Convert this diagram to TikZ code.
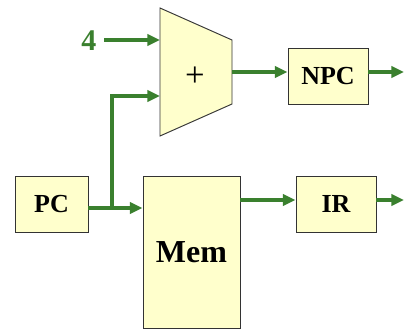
\documentclass[tikz,border=0pt]{standalone}
\usepackage{fontspec}
\setmainfont{Liberation Serif}
\usetikzlibrary{arrows.meta, calc}
\definecolor{busgreen}{RGB}{58,128,46}
\definecolor{regfill}{RGB}{255,255,204}

\begin{document}
\begin{tikzpicture}[x=0.75pt, y=-0.75pt,
  box/.style={draw=black!80, fill=regfill, line width=0.7pt, inner sep=0pt,
    font=\bfseries\fontsize{19.5}{22}\selectfont},
  bus/.style={draw=busgreen, line width=3pt, -{Triangle[length=9.5pt, width=8.5pt]}}]
\useasboundingbox (0,0) rectangle (404,329);

% adder
\draw[draw=black!80, fill=regfill, line width=0.7pt] (160,8) -- (232,40) -- (232,104) -- (160,136) -- cycle;
\node[font=\fontsize{26}{28}\selectfont] (add) at (195,77) {+};
\coordinate (addin1) at (160,40);
\coordinate (addin2) at (160,96);
\coordinate (addout) at (232,72);
\node[text=busgreen, inner xsep=5.5pt, font=\bfseries\fontsize{22.5}{24}\selectfont] (four) at (89,41) {4};

% registers
\foreach \nm/\txt/\x/\y/\w in {npc/NPC/328/76/60pt, pc/PC/51.5/204/54.75pt, ir/IR/336/204/60pt} {
    \node[box, minimum width=\w, minimum height=42pt] (\nm) at (\x,\y) {\txt};
}
\node[box, minimum width=72.75pt, minimum height=114pt, font=\bfseries\fontsize{24}{26}\selectfont] (mem) at (191.5,252) {Mem};

\coordinate (jn) at (112,208);
\coordinate (npcnext) at (404,72);
\coordinate (irnext) at (404,200);

% buses
\draw[bus] (four.east |- addin1) -- (addin1);
\draw[bus] (addout) -- (npc.west |- addout);
\draw[bus] (npc.east |- npcnext) -- (npcnext);
\draw[bus] (pc.east |- jn) -- (mem.west |- jn);
\draw[bus] (jn) |- (addin2);
\draw[bus] (mem.east |- irnext) -- (ir.west |- irnext);
\draw[bus] (ir.east |- irnext) -- (irnext);
\end{tikzpicture}
\end{document}
